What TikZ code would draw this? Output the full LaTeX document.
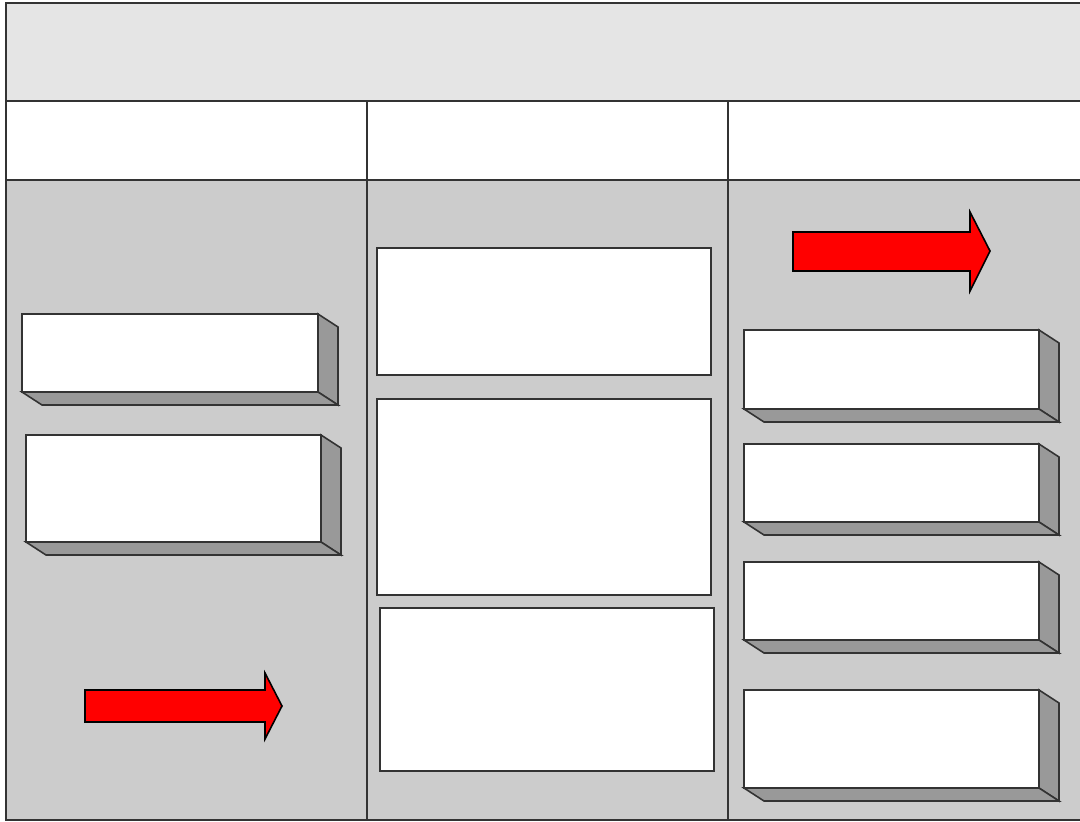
\documentclass[tikz,border=0pt]{standalone}
\usepackage{xcolor}
\usepackage{tikz}
\usetikzlibrary{calc}

\definecolor{headgray}{HTML}{E5E5E5}
\definecolor{bodygray}{HTML}{CCCCCC}
\definecolor{sidegray}{HTML}{999999}

\begin{document}
\begin{tikzpicture}[x=0.01cm,y=-0.01cm,
    frameline/.style={draw=black!80,line width=0.6pt},
    boxline/.style={draw=black!80,line width=0.45pt},
    redarrow/.style={fill=red,draw=black,line width=0.45pt}]

\useasboundingbox (0,0) rectangle (1080,821);
\clip (0,0) rectangle (1080,821);

% table frame
\fill[headgray] (6,3) rectangle (1090,101);
\fill[white] (6,101) rectangle (1090,180);
\fill[bodygray] (6,180) rectangle (1090,820);
\draw[frameline] (6,3) rectangle (1090,820);
\draw[frameline] (6,101) -- (1090,101);
\draw[frameline] (6,180) -- (1090,180);
\foreach \cx in {367,728}
    \draw[frameline] (\cx,101) -- (\cx,820);

% raised boxes, left and right column
\foreach \xa/\ya/\xb/\yb in {22/314/318/392, 26/435/321/542,
    744/330/1039/409, 744/444/1039/522, 744/562/1039/640, 744/690/1039/788}{
    \filldraw[boxline,fill=sidegray] (\xb,\ya) -- ++(20,13) -- ($(\xb,\yb)+(20,13)$) -- (\xb,\yb) -- cycle;
    \filldraw[boxline,fill=sidegray] (\xa,\yb) -- ++(20,13) -- ($(\xb,\yb)+(20,13)$) -- (\xb,\yb) -- cycle;
    \filldraw[boxline,fill=white] (\xa,\ya) rectangle (\xb,\yb);
}

% flat boxes, middle column
\foreach \xa/\ya/\xb/\yb in {377/248/711/375, 377/399/711/595, 380/608/714/771}
    \filldraw[boxline,fill=white] (\xa,\ya) rectangle (\xb,\yb);

% block arrows
\draw[redarrow] (793,232) -- (970,232) -- (970,212) -- (990,251) -- (970,291) -- (970,271) -- (793,271) -- cycle;
\draw[redarrow] (85,690) -- (265,690) -- (265,673) -- (282,706) -- (265,739) -- (265,722) -- (85,722) -- cycle;

\end{tikzpicture}
\end{document}
